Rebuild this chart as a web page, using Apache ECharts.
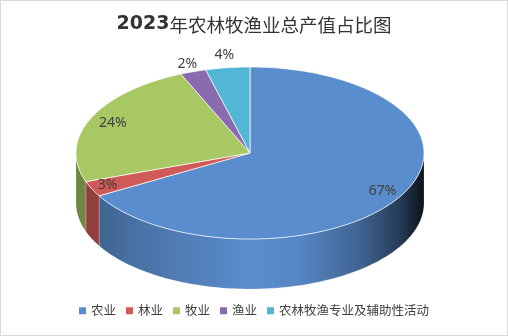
<!DOCTYPE html>
<html><head><meta charset="utf-8">
<script src="https://cdn.jsdelivr.net/npm/echarts@6/dist/echarts.min.js"></script>
<style>html,body{margin:0;padding:0;background:#fff}#c{width:506px;height:334px;border:1px solid #d9d9d9}</style>
</head><body><div id="c"></div><script>
const categories = ['农业', '林业', '牧业', '渔业', '农林牧渔专业及辅助性活动'];
const shares = [66.7, 2.9, 23.9, 2.4, 4.1];
const titleYear = '2023';
const titleRest = '年农林牧渔业总产值占比图';

// style / layout
const colors = ['#5a8dcd', '#d05a57', '#a7c863', '#8a6bb0', '#52b7d5'];
const labelDist = [0.88, 0.9, 0.86, 1.1, 1.15];
const CX = 249, CY = 152, RX = 174, RY = 86, DEPTH = 50;

function shade(hex, f) {
  const n = parseInt(hex.slice(1), 16);
  const r = Math.min(255, Math.round(((n >> 16) & 255) * f));
  const g = Math.min(255, Math.round(((n >> 8) & 255) * f));
  const b = Math.min(255, Math.round((n & 255) * f));
  return 'rgb(' + r + ',' + g + ',' + b + ')';
}
const shadeStops = [[0, 0.66], [0.2, 0.82], [0.5, 1.0], [0.64, 0.95], [0.82, 0.7], [0.93, 0.42], [1, 0.13]];

function makeRender(i) {
  return function (params, api) {
    const v = api.value(0);
    const total = shares.reduce((a, b) => a + b, 0);
    let before = 0;
    for (let k = 0; k < i; k++) before += shares[k];
    const t1 = before / total * 2 * Math.PI - Math.PI / 2;
    const t2 = (before + v) / total * 2 * Math.PI - Math.PI / 2;
    const children = [];
    const w1 = Math.max(t1, 0), w2 = Math.min(t2, Math.PI);
    if (w2 > w1) {
      const pts = [];
      const n = Math.max(4, Math.ceil((w2 - w1) / 0.02));
      for (let s = 0; s <= n; s++) {
        const t = w1 + (w2 - w1) * s / n;
        pts.push([CX + RX * Math.cos(t), CY + RY * Math.sin(t)]);
      }
      for (let s = n; s >= 0; s--) {
        const t = w1 + (w2 - w1) * s / n;
        pts.push([CX + RX * Math.cos(t), CY + DEPTH + RY * Math.sin(t)]);
      }
      const grad = new echarts.graphic.LinearGradient(CX - RX, 0, CX + RX, 0,
        shadeStops.map(s => ({ offset: s[0], color: shade(colors[i], s[1]) })), true);
      children.push({ type: 'polygon', shape: { points: pts }, z2: 1,
        style: { fill: grad, stroke: 'rgba(255,255,255,0.35)', lineWidth: 0.6 } });
    }
    const top = [[CX, CY]];
    const n2 = Math.max(4, Math.ceil((t2 - t1) / 0.02));
    for (let s = 0; s <= n2; s++) {
      const t = t1 + (t2 - t1) * s / n2;
      top.push([CX + RX * Math.cos(t), CY + RY * Math.sin(t)]);
    }
    children.push({ type: 'polygon', shape: { points: top }, z2: 10,
      style: { fill: colors[i], stroke: 'rgba(255,255,255,0.85)', lineWidth: 0.8 } });
    const tm = (t1 + t2) / 2, f = labelDist[i];
    children.push({ type: 'text', z2: 30,
      x: CX + RX * f * Math.cos(tm), y: CY + RY * f * Math.sin(tm),
      style: { text: Math.round(v / total * 100) + '%', fill: '#404040',
        font: '14px "Noto Sans", sans-serif', align: 'center', verticalAlign: 'middle' } });
    return { type: 'group', children: children };
  };
}

const chart = echarts.init(document.getElementById('c'), null, { renderer: 'canvas' });
chart.setOption({
  backgroundColor: '#fff',
  animation: false,
  title: {
    text: '{b|' + titleYear + '}{n|' + titleRest + '}',
    left: 'center', top: 9,
    textStyle: {
      rich: {
        b: { fontSize: 19, fontWeight: 'bold', color: '#333', fontFamily: '"DejaVu Sans", sans-serif' },
        n: { fontSize: 18.5, fontWeight: 'normal', color: '#333', fontFamily: '"Noto Sans CJK SC", sans-serif' }
      }
    }
  },
  legend: {
    bottom: 13, left: 'center', icon: 'rect', itemWidth: 7, itemHeight: 7, itemGap: 10,
    textStyle: { fontSize: 12.5, color: '#404040', fontFamily: '"Noto Sans CJK SC", sans-serif' },
    data: categories
  },
  series: categories.map((c, i) => ({
    type: 'custom', name: c, coordinateSystem: 'none',
    itemStyle: { color: colors[i] },
    renderItem: makeRender(i),
    data: [[shares[i]]]
  }))
});
</script></body></html>
